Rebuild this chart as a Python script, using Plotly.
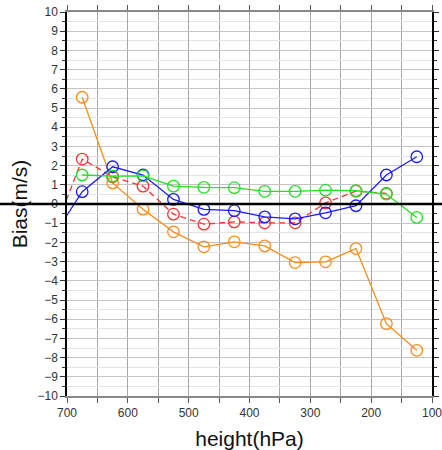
import plotly.graph_objects as go

# Pressure levels (hPa), bin centres; 725 lies just outside the plotted range
levels = [725, 675, 625, 575, 525, 475, 425, 375, 325, 275, 225, 175, 125]

bias_orange = [None, 5.56, 1.10, -0.27, -1.45, -2.23, -1.97, -2.18, -3.05, -3.01, -2.32, -6.23, -7.62]
bias_red = [-1.76, 2.34, 1.42, 0.93, -0.53, -1.05, -0.93, -0.98, -0.98, 0.06, 0.67, 0.55, None]
bias_blue = [-1.80, 0.64, 1.94, 1.51, 0.24, -0.28, -0.35, -0.67, -0.77, -0.46, -0.09, 1.51, 2.46]
bias_green = [None, 1.51, 1.45, 1.47, 0.93, 0.87, 0.85, 0.66, 0.66, 0.72, 0.69, 0.52, -0.70]

x_ticks = [700, 600, 500, 400, 300, 200, 100]
y_ticks = list(range(-10, 11))

series = [
    (bias_orange, "#ff8c1a", "solid"),
    (bias_red, "#ff3333", "6px,4px"),
    (bias_blue, "#1a1aff", "solid"),
    (bias_green, "#22e022", "solid"),
]

fig = go.Figure()
for vals, color, dash in series:
    fig.add_trace(go.Scatter(
        x=levels, y=vals, mode="lines+markers",
        line=dict(color=color, width=1.3, dash=dash),
        marker=dict(symbol="circle-open", size=11.5, color=color, line=dict(width=1.3, color=color)),
        connectgaps=False, showlegend=False, cliponaxis=True,
    ))

# Zero reference line running across the whole figure width
fig.add_shape(type="line", xref="paper", yref="y", x0=-0.2, x1=1.05, y0=0, y1=0,
              line=dict(color="black", width=2.5), layer="above")

tick_font = dict(family="Liberation Sans, Arial, sans-serif", size=12, color="#333")
title_font = dict(family="Liberation Sans, Arial, sans-serif", size=21, color="#111")

fig.update_layout(
    width=442, height=450,
    margin=dict(l=67, r=10, t=12, b=54),
    paper_bgcolor="white", plot_bgcolor="white",
    xaxis=dict(
        range=[700, 100], autorange=False, automargin=False,
        tickvals=x_ticks, ticktext=[str(v) for v in x_ticks],
        ticklabeloverflow="allow",
        ticks="outside", ticklen=5, tickcolor="#555",
        minor=dict(dtick=50, tick0=0, ticks="outside", ticklen=5, tickcolor="#555",
                   showgrid=True, gridcolor="#a8a8a8", gridwidth=1),
        showgrid=True, gridcolor="#a8a8a8", gridwidth=1,
        showline=True, linecolor="#888", linewidth=2, mirror="ticks",
        zeroline=False, tickfont=tick_font,
        title=dict(text="height(hPa)", font=title_font, standoff=12),
    ),
    yaxis=dict(
        range=[-10, 10], autorange=False, automargin=False,
        tickvals=y_ticks, ticktext=[str(v).replace("-", "\u2212") for v in y_ticks],
        ticklabeloverflow="allow",
        ticks="outside", ticklen=5, tickcolor="#333",
        minor=dict(dtick=0.5, ticks="outside", ticklen=3, tickcolor="#333",
                   showgrid=True, gridcolor="#e4e4e4", gridwidth=1),
        showgrid=True, gridcolor="#c4c4c4", gridwidth=1,
        showline=True, linecolor="black", linewidth=1.5, mirror="ticks",
        zeroline=False, tickfont=tick_font,
        title=dict(text="Bias(m/s)", font=title_font, standoff=4),
    ),
)

fig.write_html("out.html")
